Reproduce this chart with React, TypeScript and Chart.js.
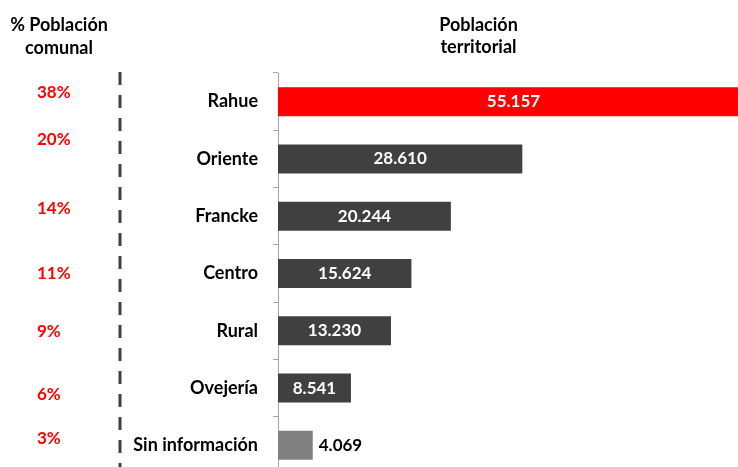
import React, { useEffect, useRef } from "react";
import { Chart, registerables } from "chart.js";

Chart.register(...registerables);

const categories = ["Rahue", "Oriente", "Francke", "Centro", "Rural", "Ovejería", "Sin información"];
const population = [55157, 28610, 20244, 15624, 13230, 8541, 4069];
const pctLabels = ["38%", "20%", "14%", "11%", "9%", "6%", "3%"];
const barColors = ["#ff0000", "#404040", "#404040", "#404040", "#404040", "#404040", "#808080"];
// vertical nudges (px) of the % labels relative to their category centre
const pctYOffset = [-9, -19, -8, 0, 1, 6, -7];
const headerLeft = ["% Población", "comunal"];
const headerRight = ["Población", "territorial"];

const FONT = "Lato, 'Open Sans', sans-serif";

function fmt(n: number): string {
  return String(n).replace(/\B(?=(\d{3})+(?!\d))/g, ".");
}

const overlay = {
  id: "overlay",
  beforeDraw(chart: any) {
    const ctx = chart.ctx;
    ctx.save();
    // dashed separator
    ctx.strokeStyle = "#404040";
    ctx.lineWidth = 3;
    ctx.setLineDash([13, 10]);
    ctx.beginPath();
    ctx.moveTo(120, 72);
    ctx.lineTo(120, chart.height);
    ctx.stroke();
    ctx.setLineDash([]);
    // headers
    ctx.fillStyle = "#000";
    ctx.font = `bold 18px ${FONT}`;
    ctx.textAlign = "center";
    ctx.textBaseline = "middle";
    headerLeft.forEach((t, i) => ctx.fillText(t, 59, 25 + i * 23));
    headerRight.forEach((t, i) => ctx.fillText(t, 478.5, 25 + i * 22));
    // percentages
    const y = chart.scales.y;
    ctx.font = `bold 17px ${FONT}`;
    ctx.fillStyle = "#ff0000";
    ctx.textAlign = "left";
    pctLabels.forEach((t, i) => {
      ctx.fillText(t, 37, y.getPixelForValue(i) + pctYOffset[i]);
    });
    ctx.restore();
  },
  afterDatasetsDraw(chart: any) {
    const ctx = chart.ctx;
    const meta = chart.getDatasetMeta(0);
    ctx.save();
    ctx.font = `bold 17px ${FONT}`;
    ctx.textBaseline = "middle";
    meta.data.forEach((bar: any, i: number) => {
      const text = fmt(population[i]);
      const w = ctx.measureText(text).width;
      const barW = bar.x - bar.base;
      if (barW > w + 12) {
        ctx.fillStyle = "#ffffff";
        ctx.textAlign = "center";
        ctx.fillText(text, (bar.x + bar.base) / 2, bar.y);
      } else {
        ctx.fillStyle = "#000000";
        ctx.textAlign = "left";
        ctx.fillText(text, bar.x + 6, bar.y);
      }
    });
    ctx.restore();
  },
};

export default function App() {
  const ref = useRef<HTMLCanvasElement | null>(null);
  useEffect(() => {
    if (!ref.current) return;
    const chart = new Chart(ref.current, {
      type: "bar",
      data: {
        labels: categories,
        datasets: [
          {
            data: population,
            backgroundColor: barColors,
            categoryPercentage: 1,
            barPercentage: 0.506,
          },
        ],
      },
      options: {
        indexAxis: "y",
        responsive: false,
        animation: false,
        layout: { padding: { top: 73, right: 0, bottom: 0, left: 0 } },
        plugins: { legend: { display: false }, tooltip: { enabled: false }, title: { display: false } },
        scales: {
          x: { display: false, min: 0, max: 55157 },
          y: {
            afterFit: (s: any) => {
              s.width = 278;
              s.paddingTop = 0;
              s.paddingBottom = 0;
            },
            grid: {
              drawOnChartArea: false,
              drawTicks: true,
              tickLength: 5,
              color: "#a6a6a6",
              offset: true,
            },
            border: { display: true, color: "#a6a6a6", width: 1 },
            ticks: {
              color: "#000",
              padding: 15,
              font: { family: FONT, size: 18, weight: "bold" },
            },
          },
        },
      },
      plugins: [overlay],
    });
    return () => chart.destroy();
  }, []);
  return (
    <div
      style={{
        position: "fixed",
        left: 0,
        top: 0,
        width: 738,
        height: 467,
        overflow: "hidden",
        background: "#fff",
      }}
    >
      <canvas ref={ref} width={749} height={474} style={{ display: "block" }} />
    </div>
  );
}
